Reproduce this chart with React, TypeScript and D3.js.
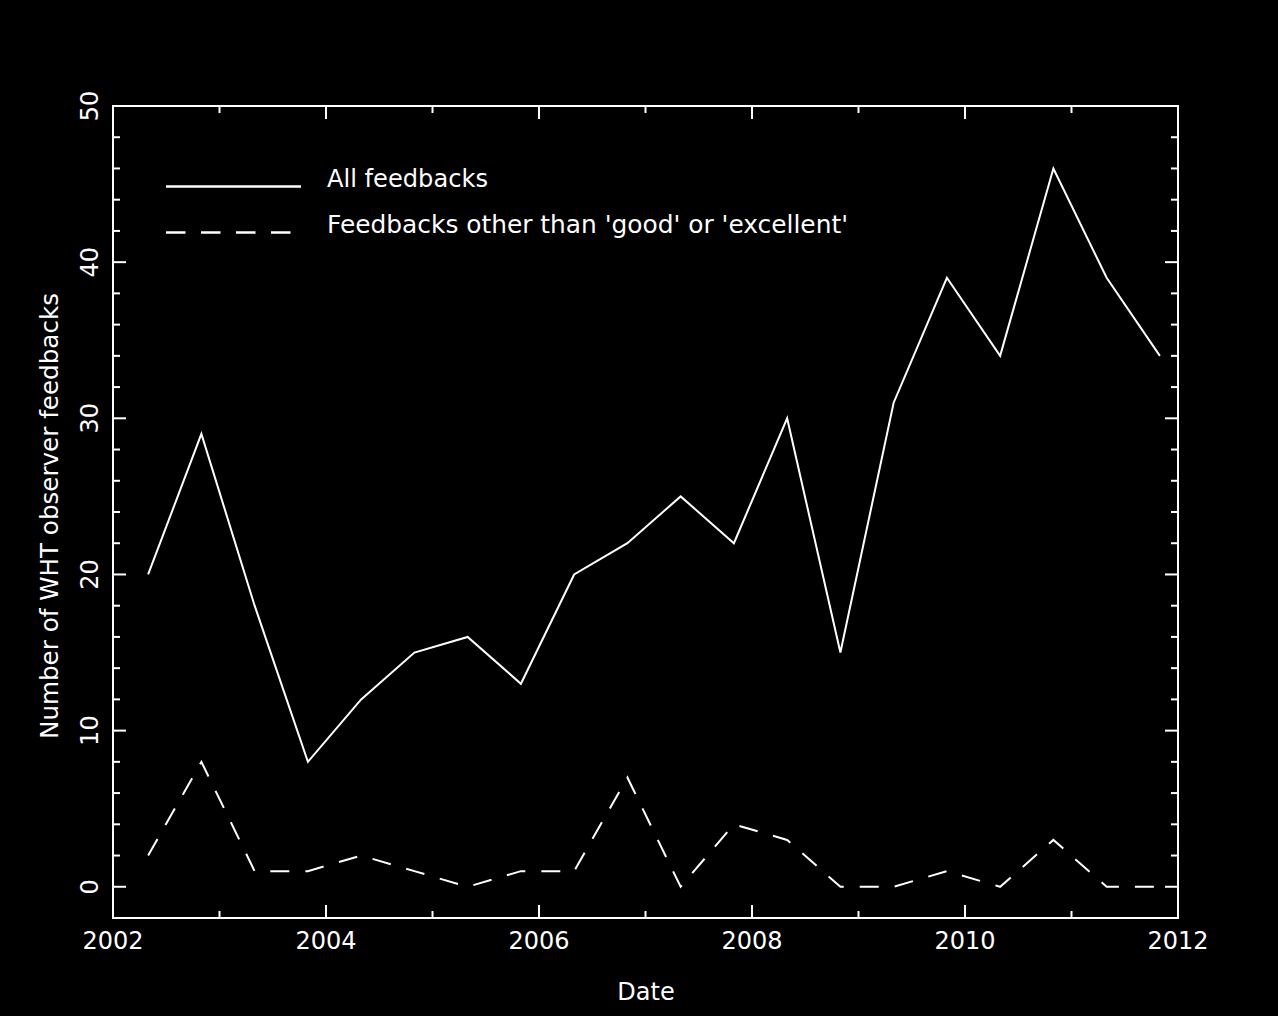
import React from "react";
import * as d3 from "d3";

const dates = [
  2002.33, 2002.83, 2003.33, 2003.83, 2004.33, 2004.83, 2005.33, 2005.83,
  2006.33, 2006.83, 2007.33, 2007.83, 2008.33, 2008.83, 2009.33, 2009.83,
  2010.33, 2010.83, 2011.33, 2011.83,
];
const allFeedbacks = [20, 29, 18, 8, 12, 15, 16, 13, 20, 22, 25, 22, 30, 15, 31, 39, 34, 46, 39, 34];
const otherFeedbacks = [2, 8, 1, 1, 2, 1, 0, 1, 1, 7, 0, 4, 3, 0, 0, 1, 0, 3, 0, 0];
const xTickLabels = [2002, 2004, 2006, 2008, 2010, 2012];
const xMinorTicks = [2003, 2005, 2007, 2009, 2011];
const yTickLabels = [0, 10, 20, 30, 40, 50];
const yMinorTicks = [2, 4, 6, 8, 12, 14, 16, 18, 22, 24, 26, 28, 32, 34, 36, 38, 42, 44, 46, 48];
const legendLabels = ["All feedbacks", "Feedbacks other than 'good' or 'excellent'"];

const W = 1278;
const H = 1016;
const L = 113, R = 1178, T = 106, B = 918;
const FONT = "'DejaVu Sans', sans-serif";
const MAJ = 13;
const MIN = 7;

export default function App() {
  const x = d3.scaleLinear().domain([2002, 2012]).range([L, R]);
  const y = d3.scaleLinear().domain([-2, 50]).range([B, T]);
  const line = d3
    .line<[number, number]>()
    .x((d) => x(d[0]))
    .y((d) => y(d[1]));
  const allPath = line(dates.map((d, i) => [d, allFeedbacks[i]] as [number, number])) || "";
  const otherPath = line(dates.map((d, i) => [d, otherFeedbacks[i]] as [number, number])) || "";
  const white = "#ffffff";

  return (
    <svg
      width={W}
      height={H}
      style={{ position: "absolute", left: 0, top: 0, display: "block", background: "#000" }}
    >
      <rect x={0} y={0} width={W} height={H} fill="#000" />
      {/* frame */}
      <rect x={L} y={T} width={R - L} height={B - T} fill="none" stroke={white} strokeWidth={2} />
      {/* x ticks */}
      {xTickLabels.map((t) => (
        <g key={"xm" + t}>
          <line x1={x(t)} x2={x(t)} y1={B} y2={B - MAJ} stroke={white} strokeWidth={2} />
          <line x1={x(t)} x2={x(t)} y1={T} y2={T + MAJ} stroke={white} strokeWidth={2} />
          <text x={x(t)} y={949} fill={white} fontFamily={FONT} fontSize={24} textAnchor="middle">
            {t}
          </text>
        </g>
      ))}
      {xMinorTicks.map((t) => (
        <g key={"xn" + t}>
          <line x1={x(t)} x2={x(t)} y1={B} y2={B - MIN} stroke={white} strokeWidth={2} />
          <line x1={x(t)} x2={x(t)} y1={T} y2={T + MIN} stroke={white} strokeWidth={2} />
        </g>
      ))}
      {/* y ticks */}
      {yTickLabels.map((t) => (
        <g key={"ym" + t}>
          <line x1={L} x2={L + MAJ} y1={y(t)} y2={y(t)} stroke={white} strokeWidth={2} />
          <line x1={R} x2={R - MAJ} y1={y(t)} y2={y(t)} stroke={white} strokeWidth={2} />
          <text
            transform={`translate(98,${y(t)}) rotate(-90)`}
            fill={white}
            fontFamily={FONT}
            fontSize={24}
            textAnchor="middle"
          >
            {t}
          </text>
        </g>
      ))}
      {yMinorTicks.map((t) => (
        <g key={"yn" + t}>
          <line x1={L} x2={L + MIN} y1={y(t)} y2={y(t)} stroke={white} strokeWidth={2} />
          <line x1={R} x2={R - MIN} y1={y(t)} y2={y(t)} stroke={white} strokeWidth={2} />
        </g>
      ))}
      {/* data */}
      <path d={allPath} fill="none" stroke={white} strokeWidth={2} strokeLinejoin="miter" />
      <path d={otherPath} fill="none" stroke={white} strokeWidth={2} strokeDasharray="19 16" />
      {/* legend */}
      <line x1={166} x2={301} y1={186.5} y2={186.5} stroke={white} strokeWidth={2.5} />
      <line x1={166} x2={291} y1={232.5} y2={232.5} stroke={white} strokeWidth={2.5} strokeDasharray="19.5 15.5" />
      <text x={327} y={187} fill={white} fontFamily={FONT} fontSize={24} textLength={161} lengthAdjust="spacingAndGlyphs">
        {legendLabels[0]}
      </text>
      <text x={327} y={233} fill={white} fontFamily={FONT} fontSize={24} textLength={521} lengthAdjust="spacingAndGlyphs">
        {legendLabels[1]}
      </text>
      {/* axis titles */}
      <text x={646} y={1000} fill={white} fontFamily={FONT} fontSize={24} textAnchor="middle">
        Date
      </text>
      <text
        transform={`translate(58,${516}) rotate(-90)`}
        fill={white}
        fontFamily={FONT}
        fontSize={24}
        textAnchor="middle"
        textLength={446}
        lengthAdjust="spacingAndGlyphs"
      >
        Number of WHT observer feedbacks
      </text>
    </svg>
  );
}
